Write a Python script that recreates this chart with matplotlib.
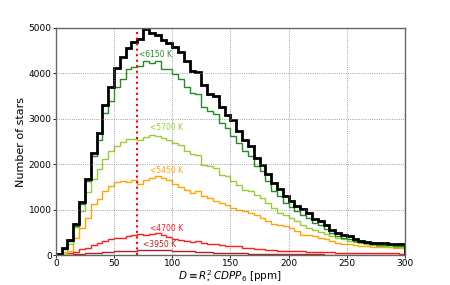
import numpy as np
import matplotlib
matplotlib.use("Agg")
import matplotlib.pyplot as plt

# histogram bins in ppm
edges = np.arange(0, 301, 5)

n_all = [20, 150, 330, 690, 1170, 1680, 2240, 2680, 3310, 3690,
         4110, 4350, 4560, 4700, 4760, 4980, 4890, 4850, 4740, 4670,
         4580, 4460, 4280, 4060, 4020, 3750, 3550, 3510, 3270, 3090,
         2980, 2730, 2530, 2390, 2130, 1985, 1790, 1580, 1450, 1300,
         1200, 1080, 1010, 920, 800, 750, 660, 560, 490, 440,
         410, 360, 320, 290, 270, 260, 255, 250, 245, 240]
n_6150 = [15, 130, 300, 640, 1120, 1640, 2170, 2530, 3120, 3400,
          3700, 3880, 4100, 4140, 4160, 4280, 4230, 4280, 4090, 4095,
          3980, 3880, 3690, 3570, 3545, 3250, 3170, 3100, 2910, 2800,
          2620, 2460, 2280, 2170, 1950, 1840, 1620, 1400, 1290, 1150,
          1060, 960, 890, 810, 700, 660, 580, 490, 430, 385,
          355, 315, 280, 255, 240, 228, 220, 212, 205, 200]
n_5700 = [5, 60, 250, 620, 960, 1380, 1680, 1900, 2120, 2300,
          2400, 2490, 2560, 2560, 2530, 2600, 2650, 2620, 2570, 2530,
          2460, 2420, 2300, 2220, 2210, 1985, 1950, 1910, 1770, 1730,
          1620, 1550, 1440, 1400, 1330, 1255, 1145, 1040, 930, 875,
          820, 745, 670, 600, 560, 510, 470, 415, 380, 345,
          315, 285, 260, 240, 220, 205, 195, 188, 182, 178]
n_5450 = [0, 20, 90, 380, 600, 820, 1120, 1230, 1410, 1520,
          1600, 1620, 1600, 1660, 1570, 1650, 1690, 1740, 1700, 1650,
          1560, 1490, 1440, 1365, 1400, 1290, 1255, 1180, 1145, 1095,
          1040, 1000, 965, 930, 875, 820, 745, 690, 670, 635,
          585, 525, 450, 440, 415, 380, 343, 307, 270, 250,
          235, 220, 205, 195, 185, 178, 172, 168, 163, 160]
n_4700 = [0, 15, 50, 70, 125, 160, 215, 255, 310, 345,
          380, 385, 420, 450, 455, 435, 460, 480, 440, 400,
          350, 340, 310, 290, 300, 270, 240, 235, 225, 210,
          205, 190, 165, 150, 135, 125, 115, 105, 100, 95,
          90, 85, 80, 75, 72, 68, 64, 60, 56, 52,
          50, 48, 45, 43, 41, 40, 38, 36, 35, 34]
n_3950 = [0, 2, 8, 15, 25, 35, 45, 55, 65, 75,
          85, 90, 95, 100, 108, 112, 118, 120, 112, 105,
          100, 92, 86, 80, 72, 66, 60, 56, 52, 48,
          44, 40, 36, 33, 30, 28, 25, 23, 21, 19,
          18, 17, 16, 15, 14, 13, 12, 11, 10, 10,
          9, 9, 8, 8, 7, 7, 7, 6, 6, 6]

subsets = [
    (n_3950, '#b22222', '<3950 K', 74.5, 240),
    (n_4700, '#ff1a1a', '<4700 K', 80.5, 590),
    (n_5450, '#ffa500', '<5450 K', 80.5, 1870),
    (n_5700, '#9acd32', '<5700 K', 80.5, 2800),
    (n_6150, '#228b22', '<6150 K', 71.5, 4410),
]

fig = plt.figure(figsize=(4.5, 2.85), dpi=100)
ax = fig.add_axes([0.124, 0.105, 0.776, 0.797])

for counts, col, lab, tx, ty in subsets:
    ax.stairs(counts, edges, color=col, lw=1.0)
    ax.text(tx, ty, lab, color=col, fontsize=5.5, va='center', ha='left')

ax.stairs(n_all, edges, color='black', lw=2.0)

ax.axvline(70, color='red', ls=':', lw=1.5)

ax.set_xlim(0, 300)
ax.set_ylim(0, 5000)
ax.set_xticks(np.arange(0, 301, 50))
ax.set_yticks(np.arange(0, 5001, 1000))
ax.tick_params(labelsize=6.5, length=2, width=0.6, pad=1, direction='out')
ax.grid(True, ls=':', color='gray', lw=0.6)
for s in ax.spines.values():
    s.set_color('#666666')
    s.set_linewidth(1.0)

ax.set_xlabel(r'$D\equiv R_{\star}^{2}\,CDPP_{6}$ [ppm]', fontsize=7.5, labelpad=0)
ax.set_ylabel('Number of stars', fontsize=8, labelpad=2)

fig.savefig('out.png', dpi=100)
